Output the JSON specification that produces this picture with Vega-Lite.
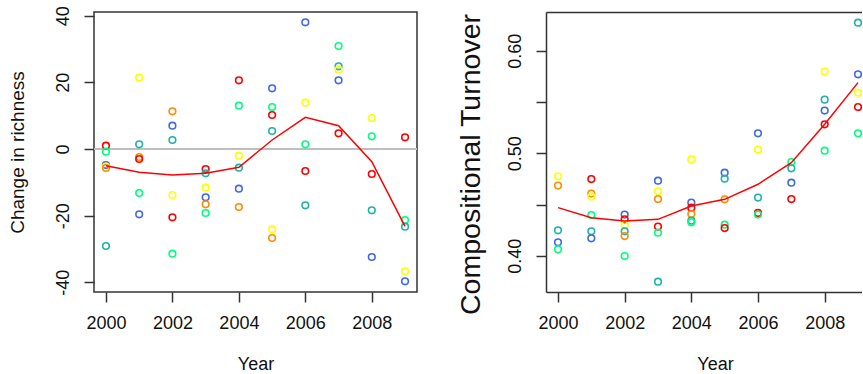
{
  "$schema": "https://vega.github.io/schema/vega-lite/v6.json",
  "autosize": {"type": "pad"},
  "padding": {"left": 7, "top": 4, "right": 0, "bottom": 0},
  "background": "white",
  "config": {
    "font": "Liberation Sans",
    "axis": {
      "domain": false, "grid": false,
      "tickColor": "#333", "tickWidth": 1.5, "tickSize": 10,
      "labelFont": "Liberation Sans", "labelFontSize": 18, "labelColor": "#111", "labelPadding": 12,
      "labelFlush": false, "labelOverlap": false,
      "titleFont": "Liberation Sans", "titleFontWeight": "normal", "titleColor": "#111",
      "domainColor": "#333", "domainWidth": 1.5
    }
  },
  "datasets": {
    "rich": [
      {"year": 2000, "series": "red", "value": 1.0},
      {"year": 2000, "series": "green", "value": -0.8},
      {"year": 2000, "series": "blue", "value": -4.8},
      {"year": 2000, "series": "yellow", "value": -5.3},
      {"year": 2000, "series": "orange", "value": -5.7},
      {"year": 2000, "series": "cyan", "value": -29.1},
      {"year": 2001, "series": "yellow", "value": 21.4},
      {"year": 2001, "series": "cyan", "value": 1.4},
      {"year": 2001, "series": "orange", "value": -2.4},
      {"year": 2001, "series": "red", "value": -3.0},
      {"year": 2001, "series": "green", "value": -13.2},
      {"year": 2001, "series": "blue", "value": -19.6},
      {"year": 2002, "series": "orange", "value": 11.3},
      {"year": 2002, "series": "blue", "value": 7.0},
      {"year": 2002, "series": "cyan", "value": 2.7},
      {"year": 2002, "series": "yellow", "value": -13.8},
      {"year": 2002, "series": "red", "value": -20.5},
      {"year": 2002, "series": "green", "value": -31.4},
      {"year": 2003, "series": "red", "value": -6.0},
      {"year": 2003, "series": "cyan", "value": -7.3},
      {"year": 2003, "series": "yellow", "value": -11.6},
      {"year": 2003, "series": "blue", "value": -14.5},
      {"year": 2003, "series": "orange", "value": -16.6},
      {"year": 2003, "series": "green", "value": -19.2},
      {"year": 2004, "series": "red", "value": 20.6},
      {"year": 2004, "series": "green", "value": 13.0},
      {"year": 2004, "series": "yellow", "value": -2.0},
      {"year": 2004, "series": "cyan", "value": -5.6},
      {"year": 2004, "series": "blue", "value": -11.9},
      {"year": 2004, "series": "orange", "value": -17.4},
      {"year": 2005, "series": "blue", "value": 18.2},
      {"year": 2005, "series": "green", "value": 12.6},
      {"year": 2005, "series": "red", "value": 10.2},
      {"year": 2005, "series": "cyan", "value": 5.4},
      {"year": 2005, "series": "yellow", "value": -24.1},
      {"year": 2005, "series": "orange", "value": -26.7},
      {"year": 2006, "series": "blue", "value": 38.0},
      {"year": 2006, "series": "yellow", "value": 13.9},
      {"year": 2006, "series": "green", "value": 1.4},
      {"year": 2006, "series": "red", "value": -6.6},
      {"year": 2006, "series": "cyan", "value": -16.9},
      {"year": 2007, "series": "green", "value": 30.9},
      {"year": 2007, "series": "cyan", "value": 24.8},
      {"year": 2007, "series": "yellow", "value": 23.8},
      {"year": 2007, "series": "blue", "value": 20.6},
      {"year": 2007, "series": "red", "value": 4.7},
      {"year": 2008, "series": "yellow", "value": 9.3},
      {"year": 2008, "series": "green", "value": 3.8},
      {"year": 2008, "series": "red", "value": -7.5},
      {"year": 2008, "series": "cyan", "value": -18.4},
      {"year": 2008, "series": "blue", "value": -32.4},
      {"year": 2009, "series": "red", "value": 3.5},
      {"year": 2009, "series": "green", "value": -21.3},
      {"year": 2009, "series": "cyan", "value": -23.3},
      {"year": 2009, "series": "yellow", "value": -36.7},
      {"year": 2009, "series": "blue", "value": -39.7}
    ],
    "richSmooth": [
      {"year": 2000, "value": -5.0},
      {"year": 2001, "value": -7.0},
      {"year": 2002, "value": -7.8},
      {"year": 2003, "value": -7.3},
      {"year": 2004, "value": -5.5},
      {"year": 2005, "value": 2.7},
      {"year": 2006, "value": 9.5},
      {"year": 2007, "value": 7.0},
      {"year": 2008, "value": -3.8},
      {"year": 2009, "value": -23.2}
    ],
    "turn": [
      {"year": 2000, "series": "yellow", "value": 0.4776},
      {"year": 2000, "series": "orange", "value": 0.4685},
      {"year": 2000, "series": "cyan", "value": 0.4249},
      {"year": 2000, "series": "blue", "value": 0.4132},
      {"year": 2000, "series": "green", "value": 0.4063},
      {"year": 2001, "series": "red", "value": 0.4749},
      {"year": 2001, "series": "orange", "value": 0.4607},
      {"year": 2001, "series": "yellow", "value": 0.4577},
      {"year": 2001, "series": "green", "value": 0.4398},
      {"year": 2001, "series": "cyan", "value": 0.4239},
      {"year": 2001, "series": "blue", "value": 0.4171},
      {"year": 2002, "series": "blue", "value": 0.4402},
      {"year": 2002, "series": "red", "value": 0.4356},
      {"year": 2002, "series": "yellow", "value": 0.4304},
      {"year": 2002, "series": "cyan", "value": 0.4239},
      {"year": 2002, "series": "orange", "value": 0.4193},
      {"year": 2002, "series": "green", "value": 0.3998},
      {"year": 2003, "series": "blue", "value": 0.4733},
      {"year": 2003, "series": "yellow", "value": 0.4629},
      {"year": 2003, "series": "orange", "value": 0.4554},
      {"year": 2003, "series": "red", "value": 0.4285},
      {"year": 2003, "series": "green", "value": 0.4226},
      {"year": 2003, "series": "cyan", "value": 0.3748},
      {"year": 2004, "series": "yellow", "value": 0.4941},
      {"year": 2004, "series": "blue", "value": 0.4519},
      {"year": 2004, "series": "red", "value": 0.447},
      {"year": 2004, "series": "orange", "value": 0.4408},
      {"year": 2004, "series": "cyan", "value": 0.4343},
      {"year": 2004, "series": "green", "value": 0.4327},
      {"year": 2005, "series": "blue", "value": 0.4811},
      {"year": 2005, "series": "cyan", "value": 0.4753},
      {"year": 2005, "series": "orange", "value": 0.4551},
      {"year": 2005, "series": "green", "value": 0.4304},
      {"year": 2005, "series": "red", "value": 0.4271},
      {"year": 2006, "series": "blue", "value": 0.5195},
      {"year": 2006, "series": "yellow", "value": 0.5036},
      {"year": 2006, "series": "cyan", "value": 0.4568},
      {"year": 2006, "series": "red", "value": 0.4418},
      {"year": 2006, "series": "green", "value": 0.4402},
      {"year": 2007, "series": "green", "value": 0.4915},
      {"year": 2007, "series": "cyan", "value": 0.4854},
      {"year": 2007, "series": "blue", "value": 0.4714},
      {"year": 2007, "series": "red", "value": 0.4554},
      {"year": 2008, "series": "yellow", "value": 0.5798},
      {"year": 2008, "series": "cyan", "value": 0.5524},
      {"year": 2008, "series": "blue", "value": 0.5417},
      {"year": 2008, "series": "red", "value": 0.5283},
      {"year": 2008, "series": "green", "value": 0.5026},
      {"year": 2009, "series": "cyan", "value": 0.6275},
      {"year": 2009, "series": "blue", "value": 0.5771},
      {"year": 2009, "series": "yellow", "value": 0.5592},
      {"year": 2009, "series": "red", "value": 0.5452},
      {"year": 2009, "series": "green", "value": 0.5195}
    ],
    "turnSmooth": [
      {"year": 2000, "value": 0.447},
      {"year": 2001, "value": 0.4372},
      {"year": 2002, "value": 0.434},
      {"year": 2003, "value": 0.4356},
      {"year": 2004, "value": 0.4486},
      {"year": 2005, "value": 0.4551},
      {"year": 2006, "value": 0.4698},
      {"year": 2007, "value": 0.4909},
      {"year": 2008, "value": 0.5283},
      {"year": 2009, "value": 0.569}
    ]
  },
  "bounds": "flush",
  "spacing": 129,
  "hconcat": [
    {
      "width": 323,
      "height": 280,
      "view": {"stroke": "#333", "strokeWidth": 1.5},
      "layer": [
        {
          "data": {"name": "richSmooth"},
          "mark": {"type": "rule", "color": "#BEBEBE", "strokeWidth": 1.5},
          "encoding": {
            "y": {"datum": 0, "type": "quantitative", "scale": {"domain": [-42.9, 41.1], "nice": false, "zero": false}}
          }
        },
        {
          "data": {"name": "rich"},
          "mark": {"type": "point", "shape": "circle", "filled": false, "size": 44, "strokeWidth": 1.6, "opacity": 1},
          "encoding": {
            "x": {"field": "year", "type": "quantitative", "scale": {"domain": [1999.64, 2009.36], "nice": false, "zero": false},
              "axis": {"values": [2000, 2002, 2004, 2006, 2008], "format": "d", "labelAngle": 0, "title": "Year", "titleFontSize": 18, "titleBaseline": "alphabetic", "titleX": 161.5, "titleY": 77}},
            "y": {"field": "value", "type": "quantitative", "scale": {"domain": [-42.9, 41.1], "nice": false, "zero": false},
              "axis": {"values": [-40, -20, 0, 20, 40], "labelExpr": "datum.value < 0 ? '-' + format(-datum.value, 'd') : format(datum.value, 'd')", "labelAngle": -90, "labelAlign": "center", "labelBaseline": "bottom", "title": "Change in richness", "titleFontSize": 19, "titleAngle": -90, "titleBaseline": "bottom", "titleX": -66.5, "titleY": 140}},
            "color": {"field": "series", "type": "nominal", "legend": null,
              "scale": {"domain": ["red", "orange", "yellow", "green", "cyan", "blue"], "range": ["#FF0000", "#FF8C00", "#FFFF00", "#00FF7F", "#20B2AA", "#4169E1"]}}
          }
        },
        {
          "data": {"name": "richSmooth"},
          "mark": {"type": "line", "color": "#FF0000", "strokeWidth": 1.5},
          "encoding": {
            "x": {"field": "year", "type": "quantitative"},
            "y": {"field": "value", "type": "quantitative"}
          }
        }
      ]
    },
    {
      "width": 316,
      "height": 280,
      "view": {"stroke": null},
      "resolve": {"axis": {"x": "independent"}},
      "layer": [
        {
          "data": {"name": "turn"},
          "mark": {"type": "point", "shape": "circle", "filled": false, "size": 44, "strokeWidth": 1.6, "opacity": 1, "clip": true},
          "encoding": {
            "x": {"field": "year", "type": "quantitative", "scale": {"domain": [1999.64, 2009.12], "nice": false, "zero": false},
              "axis": {"domain": true, "values": [2000, 2002, 2004, 2006, 2008], "format": "d", "labelAngle": 0, "title": "Year", "titleFontSize": 18, "titleBaseline": "alphabetic", "titleX": 169, "titleY": 77}},
            "y": {"field": "value", "type": "quantitative", "scale": {"domain": [0.3647, 0.6379], "nice": false, "zero": false},
              "axis": {"domain": true, "values": [0.4, 0.45, 0.5, 0.55, 0.6], "labelExpr": "indexof(['0.40','0.50','0.60'], format(datum.value, '.2f')) >= 0 ? format(datum.value, '.2f') : ''", "labelAngle": -90, "labelAlign": "center", "labelBaseline": "bottom", "title": "Compositional Turnover", "titleFontSize": 28.5, "titleAngle": -90, "titleBaseline": "bottom", "titleX": -61, "titleY": 152}},
            "color": {"field": "series", "type": "nominal", "legend": null,
              "scale": {"domain": ["red", "orange", "yellow", "green", "cyan", "blue"], "range": ["#FF0000", "#FF8C00", "#FFFF00", "#00FF7F", "#20B2AA", "#4169E1"]}}
          }
        },
        {
          "data": {"name": "turnSmooth"},
          "mark": {"type": "line", "color": "#FF0000", "strokeWidth": 1.5, "clip": true},
          "encoding": {
            "x": {"field": "year", "type": "quantitative",
              "axis": {"orient": "top", "domain": true, "ticks": false, "labels": false, "title": null}},
            "y": {"field": "value", "type": "quantitative"}
          }
        }
      ]
    }
  ]
}
